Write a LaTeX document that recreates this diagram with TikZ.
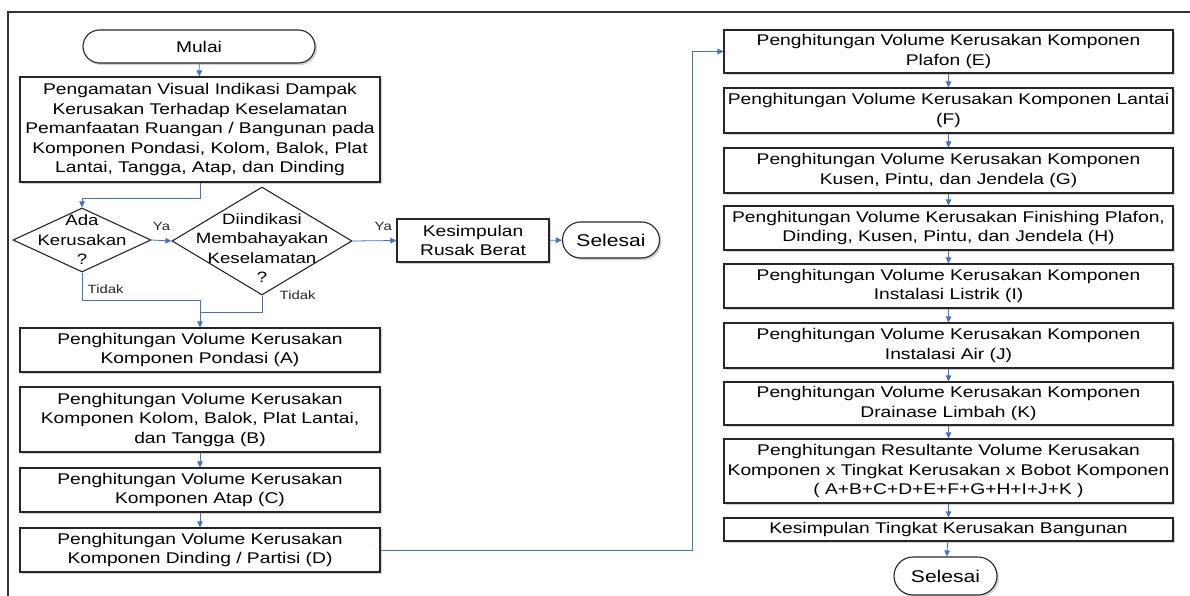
\documentclass[tikz,border=0pt]{standalone}
\usepackage{fontspec}
\setmainfont{Liberation Sans}[FakeStretch=1.24]
\usepackage{xcolor}
\usetikzlibrary{arrows.meta,shapes.geometric,shapes.misc,shadows}
\definecolor{garisbiru}{RGB}{68,114,196}

\begin{document}
\begin{tikzpicture}[x=1pt, y=-1pt,
    kotak/.style={draw=black!85, line width=1.1pt, fill=white, rectangle, align=center, inner sep=0pt,
        font=\fontsize{15.5}{19.5}\selectfont, drop shadow={opacity=0.35, shadow xshift=2pt, shadow yshift=-2pt}},
    kiri/.style={kotak, minimum width=360pt},
    kanan/.style={kotak, minimum width=449pt},
    terminal/.style={kotak, rounded rectangle},
    keputusan/.style={draw=black!85, line width=1.1pt, fill=white, diamond, inner sep=0pt},
    tekskep/.style={align=center, font=\fontsize{15}{19.5}\selectfont},
    alur/.style={draw=garisbiru, line width=0.8pt, -{Triangle[length=6pt,width=5.5pt]}},
    ket/.style={font=\fontsize{12}{14}\selectfont, text=black!85}]
    \useasboundingbox (0,0) rectangle (1190,596);
    \draw[black!80, line width=1.5pt] (8,596) -- (8,12) -- (1190,12);

    \node[terminal, minimum width=232pt, minimum height=33pt] (mulai) at (199,46.5) {Mulai};
    \node[kiri, minimum height=105pt] (amati) at (200,129.5) {Pengamatan Visual Indikasi Dampak\\Kerusakan Terhadap Keselamatan\\Pemanfaatan Ruangan / Bangunan pada\\Komponen Pondasi, Kolom, Balok, Plat\\Lantai, Tangga, Atap, dan Dinding};
    \node[keputusan, minimum width=138pt, minimum height=64pt,
        label={[tekskep]center:Ada\\Kerusakan\\?}] (ada) at (82,240) {};
    \node[keputusan, minimum width=180pt, minimum height=108pt,
        label={[tekskep, yshift=-7pt]center:Diindikasi\\Membahayakan\\Keselamatan\\?}] (bahaya) at (262,241) {};
    \node[kotak, minimum width=152pt, minimum height=43pt] (rusakberat) at (473,240.5) {Kesimpulan\\Rusak Berat};
    \node[terminal, minimum width=97pt, minimum height=36pt, font=\fontsize{17}{20}\selectfont] (selesaiA) at (611,240) {Selesai};

    \node[kiri, minimum height=44pt] (pondasi) at (200,350) {Penghitungan Volume Kerusakan\\Komponen Pondasi (A)};
    \node[kiri, minimum height=65pt] (kolom) at (200,419.5) {Penghitungan Volume Kerusakan\\Komponen Kolom, Balok, Plat Lantai,\\dan Tangga (B)};
    \node[kiri, minimum height=44pt] (atap) at (200,490) {Penghitungan Volume Kerusakan\\Komponen Atap (C)};
    \node[kiri, minimum height=44pt] (dinding) at (200,550) {Penghitungan Volume Kerusakan\\Komponen Dinding / Partisi (D)};

    \node[kanan, minimum height=43pt] (plafon) at (948.5,51.5) {Penghitungan Volume Kerusakan Komponen\\Plafon (E)};
    \node[kanan, minimum height=45pt] (lantai) at (948.5,110.5) {Penghitungan Volume Kerusakan Komponen Lantai\\(F)};
    \node[kanan, minimum height=45pt] (kusen) at (948.5,170.5) {Penghitungan Volume Kerusakan Komponen\\Kusen, Pintu, dan Jendela (G)};
    \node[kanan, minimum height=44pt] (finishing) at (948.5,228) {Penghitungan Volume Kerusakan Finishing Plafon,\\Dinding, Kusen, Pintu, dan Jendela (H)};
    \node[kanan, minimum height=44pt] (listrik) at (948.5,286) {Penghitungan Volume Kerusakan Komponen\\Instalasi Listrik (I)};
    \node[kanan, minimum height=45pt] (air) at (948.5,345.5) {Penghitungan Volume Kerusakan Komponen\\Instalasi Air (J)};
    \node[kanan, minimum height=43pt] (drainase) at (948.5,403.5) {Penghitungan Volume Kerusakan Komponen\\Drainase Limbah (K)};
    \node[kanan, minimum height=64pt] (resultan) at (948.5,471) {Penghitungan Resultante Volume Kerusakan\\Komponen x Tingkat Kerusakan x Bobot Komponen\\( A+B+C+D+E+F+G+H+I+J+K )};
    \node[kanan, minimum height=23pt] (tingkat) at (948.5,529.5) {Kesimpulan Tingkat Kerusakan Bangunan};
    \node[terminal, minimum width=103pt, minimum height=38pt, font=\fontsize{17}{20}\selectfont] (selesaiB) at (945.5,576) {Selesai};

    \coordinate (gabung) at (200,300);
    \coordinate (temu) at (200,312);
    \coordinate (belok) at (692,550);

    \draw[alur] (mulai) -- (amati);
    \draw[alur] (amati.south) -- ++(0,16) -| (ada.north);
    \draw[alur] (ada.east) -- node[ket, above=6pt] {Ya} (bahaya.west);
    \draw[alur] (bahaya.east) -- node[ket, above=6pt, pos=0.7] {Ya} (rusakberat.west);
    \draw[alur] (rusakberat) -- (selesaiA);
    \draw[alur] (ada.south) |- node[ket, right, pos=0.3, xshift=2pt] {Tidak} (gabung) -- (pondasi.north);
    \draw[draw=garisbiru, line width=0.8pt] (bahaya.south) |- node[ket, right, pos=0, xshift=14pt] {Tidak} (temu);
    \draw[alur] (kolom) -- (atap);
    \draw[alur] (atap) -- (dinding);
    \draw[alur] (dinding.east) -- (belok) |- (plafon.west);
    \foreach \a/\b in {plafon/lantai, lantai/kusen, kusen/finishing, finishing/listrik, listrik/air, air/drainase, drainase/resultan, resultan/tingkat, tingkat/selesaiB}
        \draw[alur] (\a) -- (\b);
\end{tikzpicture}
\end{document}
